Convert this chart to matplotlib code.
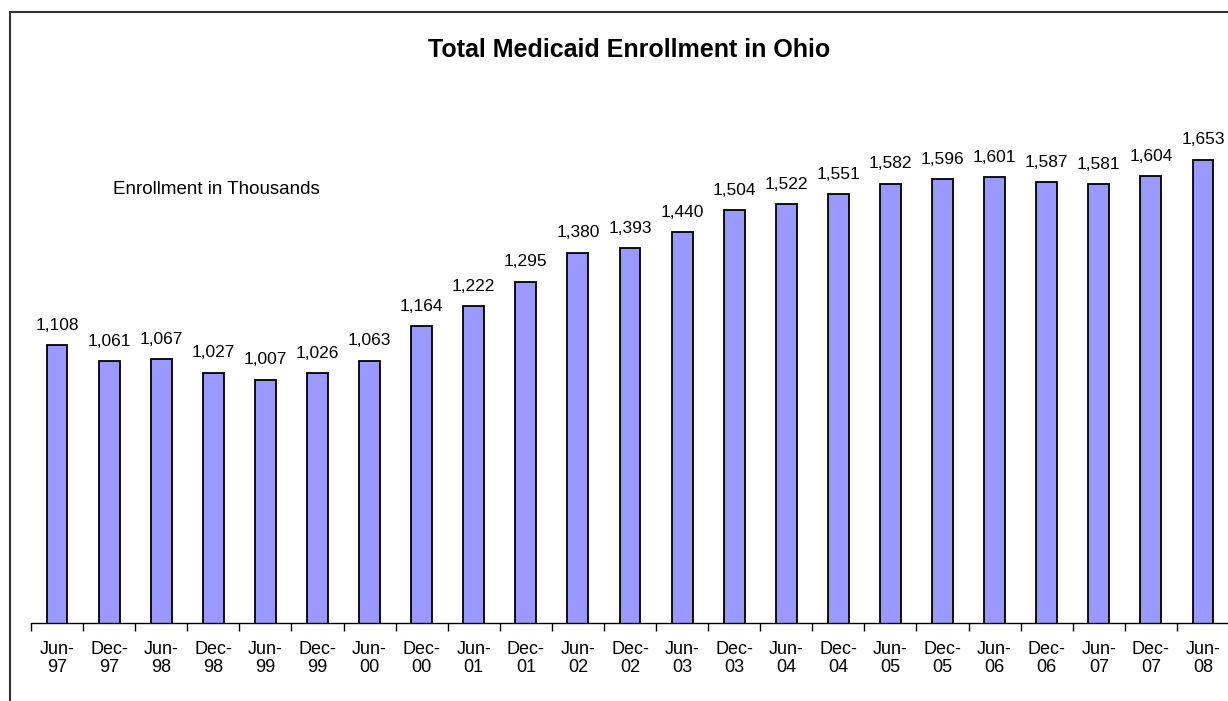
import matplotlib.pyplot as plt
from matplotlib.patches import Rectangle

plt.rcParams['font.family'] = ['Liberation Sans', 'DejaVu Sans']

periods = ['Jun-\n97', 'Dec-\n97', 'Jun-\n98', 'Dec-\n98', 'Jun-\n99', 'Dec-\n99',
           'Jun-\n00', 'Dec-\n00', 'Jun-\n01', 'Dec-\n01', 'Jun-\n02', 'Dec-\n02',
           'Jun-\n03', 'Dec-\n03', 'Jun-\n04', 'Dec-\n04', 'Jun-\n05', 'Dec-\n05',
           'Jun-\n06', 'Dec-\n06', 'Jun-\n07', 'Dec-\n07', 'Jun-\n08']
enrollment = [1108, 1061, 1067, 1027, 1007, 1026, 1063, 1164, 1222, 1295, 1380, 1393,
              1440, 1504, 1522, 1551, 1582, 1596, 1601, 1587, 1581, 1604, 1653]

W, H = 1228, 701
fig = plt.figure(figsize=(W / 100, H / 100), dpi=100)

# outer chart border (cropped on right/bottom in the reference)
fig.patches.append(Rectangle((10 / W, -0.1), 1.2, 1 - 12 / H + 0.1, transform=fig.transFigure,
                             fill=False, edgecolor='#333333', linewidth=1.5))

ax = fig.add_axes([31 / W, (H - 623) / H, 1198 / W, (623 - 100) / H])
x = range(len(enrollment))
bars = ax.bar(x, enrollment, width=0.4, color='#9999FF', edgecolor='black', linewidth=1.3)
ax.set_ylim(293, 1828)
ax.set_xlim(-0.5, len(enrollment) - 0.5)

for xi, v in zip(x, enrollment):
    ax.annotate(f'{v:,}', (xi, v), xytext=(0, 9), textcoords='offset points',
                ha='center', va='bottom', fontsize=12.5)

ax.set_xticks(list(x))
ax.set_xticklabels(periods, fontsize=13, linespacing=1.05)
ax.tick_params(axis='x', which='major', length=0, pad=13)
ax.set_xticks([i - 0.5 for i in range(len(enrollment) + 1)], minor=True)
ax.tick_params(axis='x', which='minor', length=6, width=1)
ax.set_yticks([])
for s in ['left', 'right', 'top']:
    ax.spines[s].set_visible(False)
ax.spines['bottom'].set_linewidth(1)

fig.text(629 / W, 1 - 50 / H, 'Total Medicaid Enrollment in Ohio', ha='center', va='center',
         fontsize=18, fontweight='bold')
fig.text(113 / W, 1 - 189 / H, 'Enrollment in Thousands', ha='left', va='center', fontsize=13.5)

plt.savefig('out.png', dpi=100)
